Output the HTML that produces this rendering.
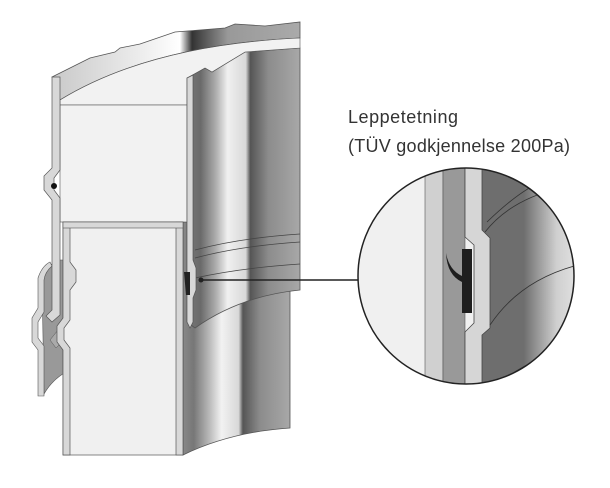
<!DOCTYPE html>
<html><head><meta charset="utf-8"><style>
html,body{margin:0;padding:0;background:#fff;}
svg{display:block;}
</style></head><body>
<svg width="610" height="488" viewBox="0 0 610 488" xmlns="http://www.w3.org/2000/svg">
<defs>
<linearGradient id="g1" x1="187" y1="0" x2="300" y2="0" gradientUnits="userSpaceOnUse">
<stop offset="0" stop-color="#777"/><stop offset="0.12" stop-color="#6a6a6a"/>
<stop offset="0.25" stop-color="#aaa"/><stop offset="0.36" stop-color="#f0f0f0"/>
<stop offset="0.52" stop-color="#d8d8d8"/><stop offset="0.56" stop-color="#555"/>
<stop offset="0.72" stop-color="#8c8c8c"/><stop offset="1" stop-color="#a8a8a8"/>
</linearGradient>
<linearGradient id="g2" x1="183" y1="0" x2="290" y2="0" gradientUnits="userSpaceOnUse">
<stop offset="0" stop-color="#888"/><stop offset="0.1" stop-color="#777"/>
<stop offset="0.25" stop-color="#bbb"/><stop offset="0.36" stop-color="#f2f2f2"/>
<stop offset="0.52" stop-color="#d8d8d8"/><stop offset="0.56" stop-color="#555"/>
<stop offset="0.72" stop-color="#8c8c8c"/><stop offset="1" stop-color="#a8a8a8"/>
</linearGradient>
<linearGradient id="gt" x1="60" y1="0" x2="300" y2="0" gradientUnits="userSpaceOnUse">
<stop offset="0" stop-color="#ccc"/><stop offset="0.35" stop-color="#eee"/>
<stop offset="0.5" stop-color="#fff"/><stop offset="0.55" stop-color="#333"/>
<stop offset="0.7" stop-color="#999"/><stop offset="1" stop-color="#aaa"/>
</linearGradient>
<linearGradient id="gc" x1="482" y1="0" x2="575" y2="0" gradientUnits="userSpaceOnUse">
<stop offset="0" stop-color="#6e6e6e"/><stop offset="0.45" stop-color="#6e6e6e"/>
<stop offset="0.8" stop-color="#cfcfcf"/><stop offset="1" stop-color="#e0e0e0"/>
</linearGradient>
<clipPath id="cc"><circle cx="466" cy="276" r="108"/></clipPath>
</defs>

<!-- lower inner pipe body -->
<path d="M183,222 L290,222 L290,428 Q230,432 183,455 Z" fill="url(#g2)" stroke="#555" stroke-width="0.8"/>
<!-- outer pipe body -->
<path d="M187,78 L205,68 L212,72 L245,52 L300,48 L300,290 Q240,296 195,328 L187,322 Z" fill="url(#g1)" stroke="#555" stroke-width="0.8"/>
<path d="M195,250 Q240,238 300,234 M195,258 Q240,246 300,242 M195,278 Q240,268 300,264" fill="none" stroke="#444" stroke-width="0.7"/>
<!-- top band -->
<path d="M52,77 L62,72 L90,58 L115,52 L120,48 L140,44 L175,32 L225,28 L235,24 L265,26 L300,22 L300,38 Q150,45 60,100 Z" fill="url(#gt)" stroke="#555" stroke-width="0.8"/>
<!-- top light face -->
<path d="M60,100 Q150,45 300,38 L300,48 L245,52 L212,72 L205,68 L187,78 L187,105 L60,105 Z" fill="#f2f2f2" stroke="#555" stroke-width="0.6"/>
<rect x="60" y="105" width="127" height="117" fill="#f2f2f2" stroke="#555" stroke-width="0.6"/>
<!-- outer pipe left light wall -->
<path d="M187,78 L193,75 L193,260 L196,268 L196,290 L193,298 L193,322 L190,328 L187,322 Z" fill="#d8d8d8" stroke="#555" stroke-width="0.7"/>
<!-- left lower gray region -->
<path d="M42,280 Q46,266 58,260 L66,260 L66,372 Q52,380 44,394 Z" fill="#999" stroke="#555" stroke-width="0.6"/>
<!-- sleeve wall -->
<path d="M38,278 Q42,266 50,262 L52,266 Q45,272 44,280 L44,312 L38,322 L38,338 L44,346 L44,396 L38,396 L38,350 L32,342 L32,318 L38,308 Z" fill="#d8d8d8" stroke="#555" stroke-width="0.6"/>
<!-- outer left wall -->
<path d="M52,77 L60,77 L60,170 L54,178 L54,190 L60,198 L60,315 L52,322 L46,316 L52,310 L52,200 L44,190 L44,176 L52,168 Z" fill="#d8d8d8" stroke="#555" stroke-width="0.7"/>
<circle cx="54" cy="186" r="3" fill="#111"/>
<path d="M50,340 L58,330 L66,326 L66,338 L56,348 Z" fill="#aaa" stroke="#555" stroke-width="0.5"/>
<!-- inner pipe face -->
<rect x="63" y="222" width="120" height="233" fill="#f0f0f0" stroke="#555" stroke-width="0.7"/>
<path d="M63,222 L70,222 L70,262 L76,270 L76,282 L70,290 L70,320 L64,328 L64,340 L70,348 L70,455 L63,455 L63,350 L57,342 L57,326 L63,318 L63,292 Z" fill="#d8d8d8" stroke="#555" stroke-width="0.7"/>
<rect x="176" y="222" width="7" height="233" fill="#d8d8d8" stroke="#555" stroke-width="0.7"/>
<rect x="63" y="222" width="120" height="6" fill="#d8d8d8" stroke="#555" stroke-width="0.6"/>
<!-- seal small -->
<path d="M184,272 L190,272 L190,295 L186,295 Z" fill="#222"/>
<!-- leader -->
<line x1="201" y1="280" x2="358" y2="280" stroke="#222" stroke-width="1.5"/>
<circle cx="201" cy="280" r="2.5" fill="#222"/>

<!-- zoom circle -->
<g clip-path="url(#cc)">
<rect x="350" y="160" width="240" height="240" fill="#f0f0f0"/>
<rect x="425" y="160" width="18" height="240" fill="#d0d0d0" stroke="#555" stroke-width="0.6"/>
<rect x="443" y="160" width="22" height="240" fill="#999" stroke="#555" stroke-width="0.6"/>
<path d="M482,160 L600,160 L600,400 L482,400 L482,333 L490,325 L490,240 L482,232 Z" fill="url(#gc)"/>
<path d="M465,160 L467,160 L482,160 L482,230 L490,238 L490,328 L482,335 L482,400 L465,400 L465,332 L474,323 L474,245 L465,237 Z" fill="#d6d6d6" stroke="#444" stroke-width="0.8"/>
<path d="M485,232 Q510,200 560,188 M487,222 Q520,190 545,180 M490,325 Q520,280 578,265" fill="none" stroke="#333" stroke-width="0.8"/>
<path d="M505,378 Q540,355 575,345 L590,400 Z" fill="#f0f0f0" stroke="#333" stroke-width="0.8"/>
<rect x="462" y="249" width="10" height="64" fill="#1e1e1e"/>
<path d="M446,253 Q449,270 462,276 L462,282 Q447,275 446,253 Z" fill="#1e1e1e"/>
</g>
<circle cx="466" cy="276" r="108" fill="none" stroke="#222" stroke-width="1.5"/>

<text x="348" y="123" font-family="Liberation Sans, sans-serif" font-size="18" fill="#333" textLength="110">Leppetetning</text>
<text x="348" y="152" font-family="Liberation Sans, sans-serif" font-size="18" fill="#333" textLength="222">(TÜV godkjennelse 200Pa)</text>
</svg>
</body></html>
